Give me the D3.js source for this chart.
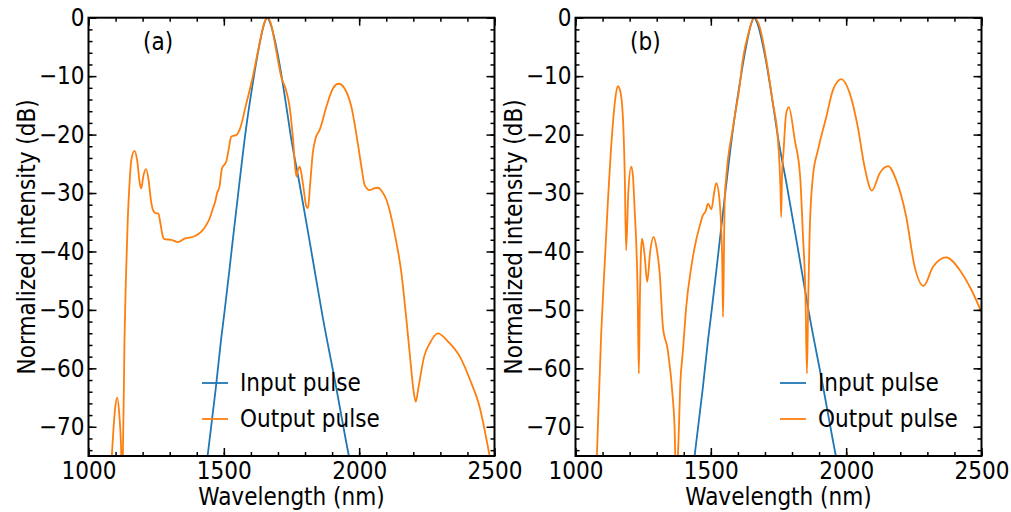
<!DOCTYPE html>
<html>
<head>
<meta charset="utf-8">
<title>Input and output pulse spectra</title>
<script src="https://d3js.org/d3.v7.min.js"></script>
<style>
  body { margin: 0; background: #fff; }
  svg text { font-family: "DejaVu Sans Condensed", "DejaVu Sans", sans-serif; font-stretch: condensed; fill: #000; }
  .axis path { display: none; }
  .axis line { stroke: #000; stroke-width: 1.5; }
  .axis text { font-size: 24px; }
</style>
</head>
<body>
<svg width="1011" height="512"></svg>
<script>
// tick values
var waveTicks = [1000, 1500, 2000, 2500];
var dbTicks = [0, -10, -20, -30, -40, -50, -60, -70];

// input pulse (same in both panels): [wavelength nm, dB]
var inputWave = [1440, 1470, 1490, 1502, 1521, 1532, 1557, 1582, 1606, 1630, 1648, 1660, 1672, 1690, 1706, 1729, 1750, 1780, 1829, 1866, 1910, 1962, 1975];
var inputDb   = [-75, -63.5, -55, -50.5, -43, -38.5, -28.5, -19, -11.5, -5, -1.2, 0, -1, -4.2, -8, -14.6, -21, -28.5, -41.5, -51.4, -62, -75, -78];

// output pulse, panel (a)
var outAWave = [1080, 1090, 1098, 1106, 1114, 1120, 1123, 1127, 1133, 1138, 1145, 1152, 1158, 1170, 1180, 1190, 1195, 1203, 1213, 1222, 1230, 1238, 1250, 1258, 1265, 1275, 1281, 1306, 1330, 1355, 1392, 1417, 1435, 1447, 1460, 1468, 1475, 1484, 1493, 1509, 1518, 1527, 1536, 1546, 1558, 1583, 1607, 1632, 1651, 1661, 1675, 1693, 1712, 1730, 1743, 1755, 1768, 1774, 1780, 1786, 1792, 1805, 1811, 1818, 1829, 1840, 1854, 1879, 1903, 1924, 1946, 1971, 1995, 2010, 2020, 2039, 2055, 2070, 2085, 2101, 2131, 2156, 2174, 2190, 2200, 2209, 2220, 2240, 2261, 2291, 2330, 2372, 2410, 2445, 2480, 2490];
var outADb   = [-80, -72, -67, -65, -68, -73, -78, -75, -55, -45, -34.6, -28, -24.4, -22.8, -24.5, -28.5, -29.2, -27, -25.9, -27.8, -31, -32.9, -33.5, -33.5, -35, -37.5, -37.9, -38, -38.4, -37.8, -37.4, -36.6, -35.5, -34.4, -32.6, -31.5, -30, -28.9, -25.8, -24.6, -22.5, -20.4, -20.2, -20.1, -19.2, -14.7, -10.1, -4.4, -0.7, 0, -1.2, -5.5, -10.1, -12.4, -15.2, -20.4, -27.2, -26, -25.5, -26.5, -28.3, -32.3, -32.6, -29, -23, -20.5, -19.2, -15.2, -12.1, -11.3, -12.1, -15.2, -21.5, -26, -28.6, -29.5, -29.2, -29.1, -29.8, -31.2, -36.9, -43.7, -51.4, -59, -63.5, -65.7, -63, -58, -55.7, -54, -55.5, -58, -62, -66.6, -74.5, -77];

// output pulse, panel (b)
var outBWave = [1075, 1079, 1095, 1101, 1120, 1135, 1148, 1156, 1165, 1175, 1182, 1187, 1195, 1206, 1212, 1218, 1230, 1234, 1238, 1242, 1246, 1255, 1265, 1276, 1288, 1300, 1311, 1323, 1341, 1360, 1366, 1370, 1374, 1378, 1388, 1397, 1409, 1428, 1446, 1458, 1471, 1480, 1490, 1502, 1512, 1520, 1532, 1542, 1545, 1548, 1551, 1557, 1582, 1606, 1618, 1640, 1659, 1680, 1705, 1729, 1748, 1757, 1760, 1763, 1769, 1778, 1788, 1810, 1830, 1840, 1850, 1855, 1860, 1865, 1877, 1896, 1927, 1951, 1982, 2013, 2043, 2068, 2095, 2124, 2155, 2185, 2222, 2253, 2286, 2321, 2370, 2420, 2463, 2500];
var outBDb   = [-80, -75, -54, -48.3, -31.2, -20, -13.5, -11.7, -12.5, -16.9, -27, -39.8, -30, -25.5, -27, -32.3, -48.3, -60.9, -48, -40, -37.8, -40.5, -45.2, -40, -37.5, -39.5, -43.7, -52.9, -56.9, -65.4, -70, -77, -77, -75, -62, -56.9, -49.5, -42.6, -38, -35.8, -33.8, -33.2, -31.8, -32.8, -30, -28.3, -31.2, -41.5, -51.2, -42, -31.2, -27.2, -18.7, -11.8, -7.2, -2.5, 0, -1.5, -7.2, -14.6, -20.9, -28.9, -34.1, -27, -22.6, -16.5, -15.3, -20.9, -27.2, -36.9, -48.3, -60.9, -48, -36.9, -27.2, -22.6, -16.9, -12.4, -10.5, -12.9, -18.7, -25.5, -29.6, -26.6, -25.4, -27.8, -34.1, -42.6, -45.9, -42.6, -41, -43.2, -46.6, -50.4];

var svg = d3.select("svg");
var plotTop = 17.7, plotBottom = 456, plotW = 406;

var ys = d3.scaleLinear().domain([-75, 0]).range([plotBottom, plotTop]);

function pairs(w, v) { return w.map(function(d, i) { return [d, v[i]]; }); }

function drawPanel(left, outWave, outDb, label, labelX, legX, id) {
  var xs = d3.scaleLinear().domain([1000, 2500]).range([left, left + plotW]);
  var g = svg.append("g");

  g.append("clipPath").attr("id", "clip" + id)
    .append("rect").attr("x", left).attr("y", plotTop).attr("width", plotW).attr("height", plotBottom - plotTop);

  var line = d3.line()
    .x(function(d) { return xs(d[0]); })
    .y(function(d) { return ys(d[1]); })
    .curve(d3.curveMonotoneX);

  g.append("path").datum(pairs(inputWave, inputDb))
    .attr("d", line).attr("fill", "none").attr("stroke", "#1f77b4").attr("stroke-width", 1.8)
    .attr("clip-path", "url(#clip" + id + ")");
  g.append("path").datum(pairs(outWave, outDb))
    .attr("d", line).attr("fill", "none").attr("stroke", "#ff7f0e").attr("stroke-width", 1.8)
    .attr("clip-path", "url(#clip" + id + ")");

  var minorX = d3.range(1000, 2501, 100);
  var minorY = d3.range(-74, 1, 2);

  // bottom
  g.append("g").attr("class", "axis").attr("transform", "translate(0," + plotBottom + ")")
    .call(d3.axisBottom(xs).tickValues(minorX).tickSize(-4).tickFormat(""));
  g.append("g").attr("class", "axis").attr("transform", "translate(0," + plotBottom + ")")
    .call(d3.axisBottom(xs).tickValues(waveTicks).tickSize(-8).tickPadding(6).tickFormat(d3.format("d")));
  // top
  g.append("g").attr("class", "axis").attr("transform", "translate(0," + plotTop + ")")
    .call(d3.axisTop(xs).tickValues(minorX).tickSize(-4).tickFormat(""));
  g.append("g").attr("class", "axis").attr("transform", "translate(0," + plotTop + ")")
    .call(d3.axisTop(xs).tickValues(waveTicks).tickSize(-8).tickFormat(""));
  // left
  g.append("g").attr("class", "axis").attr("transform", "translate(" + left + ",0)")
    .call(d3.axisLeft(ys).tickValues(minorY).tickSize(-4).tickFormat(""));
  g.append("g").attr("class", "axis").attr("transform", "translate(" + left + ",0)")
    .call(d3.axisLeft(ys).tickValues(dbTicks).tickSize(-8).tickPadding(4));
  // right
  g.append("g").attr("class", "axis").attr("transform", "translate(" + (left + plotW) + ",0)")
    .call(d3.axisRight(ys).tickValues(minorY).tickSize(-4).tickFormat(""));
  g.append("g").attr("class", "axis").attr("transform", "translate(" + (left + plotW) + ",0)")
    .call(d3.axisRight(ys).tickValues(dbTicks).tickSize(-8).tickFormat(""));

  g.selectAll(".axis text").attr("font-size", 24).style("font-size", "24px");

  // frame
  g.append("rect").attr("x", left).attr("y", plotTop).attr("width", plotW).attr("height", plotBottom - plotTop)
    .attr("fill", "none").attr("stroke", "#000").attr("stroke-width", 2);

  // axis titles
  g.append("text").attr("x", left + plotW / 2).attr("y", 505)
    .attr("text-anchor", "middle").style("font-size", "24px").text("Wavelength (nm)");
  g.append("text")
    .attr("transform", "translate(" + (left - 62) + "," + ((plotTop + plotBottom) / 2) + ")rotate(-90)")
    .attr("text-anchor", "middle").attr("dy", "0.35em").style("font-size", "24px")
    .text("Normalized intensity (dB)");

  // panel label
  g.append("text").attr("x", labelX).attr("y", 50).style("font-size", "24px").text(label);

  // legend
  var leg = [["Input pulse", "#1f77b4", 383], ["Output pulse", "#ff7f0e", 419]];
  leg.forEach(function(l) {
    g.append("line").attr("x1", legX).attr("x2", legX + 26).attr("y1", l[2]).attr("y2", l[2])
      .attr("stroke", l[1]).attr("stroke-width", 1.8);
    g.append("text").attr("x", legX + 38).attr("y", l[2]).attr("dy", "0.35em")
      .style("font-size", "24px").text(l[0]);
  });
}

drawPanel(88.5, outAWave, outADb, "(a)", 143, 202, "a");
drawPanel(575.5, outBWave, outBDb, "(b)", 630, 780, "b");
</script>
</body>
</html>
